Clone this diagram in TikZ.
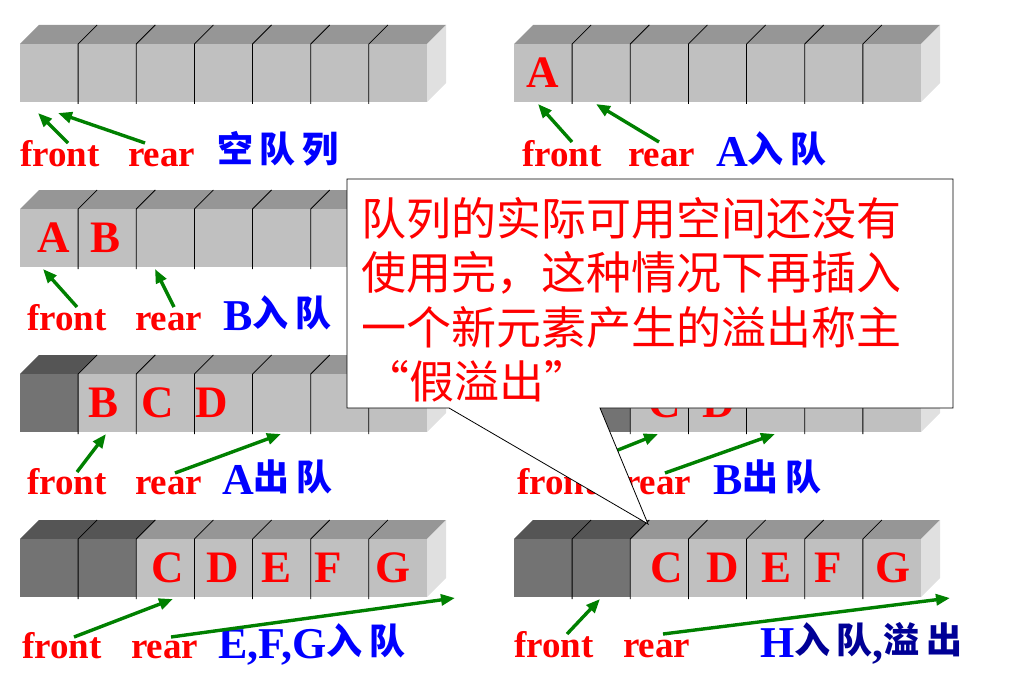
\documentclass[tikz,border=0pt]{standalone}
\usepackage{fontspec}
\setmainfont{Liberation Serif}
\newfontfamily\cjk{Noto Sans CJK SC}
\newfontfamily\cjklab{Noto Sans CJK SC}[LetterSpace=18]
\usetikzlibrary{arrows.meta}
\definecolor{qfront}{RGB}{192,192,192}
\definecolor{qtop}{RGB}{150,150,150}
\definecolor{qside}{RGB}{224,224,224}
\definecolor{qdfront}{RGB}{115,115,115}
\definecolor{qdtop}{RGB}{85,85,85}
\definecolor{ptrgreen}{RGB}{0,128,0}
\definecolor{opnavy}{RGB}{0,0,150}

\newcommand{\zh}[1]{\raisebox{4pt}{\cjklab\bfseries\fontsize{36}{36}\selectfont #1}}

% one queue strip: #1 = x, #2 = y of the front face, #3 = dequeued cells
\newcommand{\qstrip}[3]{%
  \begin{scope}[shift={(#1,#2)}]
    \fill[qtop] (0,0) -- (19,-19) -- (426,-19) -- (407,0) -- cycle;
    \fill[qside] (407,0) -- (426,-19) -- (426,39) -- (407,58) -- cycle;
    \fill[qfront] (0,0) rectangle (407,58);
    \ifnum#3>0
      \fill[qdtop] (0,0) -- (19,-19) -- ({#3*58.14+19},-19) -- ({#3*58.14},0) -- cycle;
      \fill[qdfront] (0,0) rectangle ({#3*58.14},58);
    \fi
    \foreach \i in {1,...,6}
      \draw[cellline] ({\i*58.14},60) -- ({\i*58.14},0) -- ++(19,-19);
  \end{scope}}

\begin{document}
\begin{tikzpicture}[
    x=1pt, y=-1pt,
    cellline/.style={black, line width=0.8pt},
    cellchar/.style={text=red, inner sep=0pt, font=\bfseries\fontsize{45}{45}\selectfont},
    ptrlabel/.style={anchor=base west, inner sep=0pt, text=red,
                     font=\bfseries\fontsize{37}{37}\selectfont},
    oplabel/.style={anchor=base west, inner sep=0pt, text=blue,
                    font=\bfseries\fontsize{44}{44}\selectfont},
    ptr/.style={ptrgreen, line width=3.4pt, -{Triangle[length=14pt,width=11pt]}},
    note/.style={fill=white, draw=black, line width=0.8pt},
    notetext/.style={anchor=north west, inner sep=0pt, align=left, text=red,
                     font=\cjk\fontsize{45}{54.5}\selectfont}
  ]
  \useasboundingbox (0,0) rectangle (1022,698);

  % strips
  \qstrip{20}{44}{0}
  \qstrip{514}{44}{0}
  \qstrip{20}{209}{0}
  \qstrip{20}{374}{1}
  \qstrip{514}{374}{2}
  \qstrip{20}{539}{2}
  \qstrip{514}{539}{2}

  % queue contents
  \node[cellchar] (a1) at (543,73) {A};
  \node[cellchar] (a2) at (54,238) {A};
  \node[cellchar] (b2) at (106,238) {B};
  \node[cellchar] (b3) at (104,403) {B};
  \node[cellchar] (c3) at (158,403) {C};
  \node[cellchar] (d3) at (212,403) {D};
  \node[cellchar] (c4) at (665,403) {C};
  \node[cellchar] (d4) at (719,403) {D};
  \node[cellchar] (c5) at (168,568) {C};
  \node[cellchar] (d5) at (223,568) {D};
  \node[cellchar] (e5) at (277,568) {E};
  \node[cellchar] (f5) at (328,568) {F};
  \node[cellchar] (g5) at (393,568) {G};
  \node[cellchar] (c6) at (667,568) {C};
  \node[cellchar] (d6) at (723,568) {D};
  \node[cellchar] (e6) at (776,568) {E};
  \node[cellchar] (f6) at (828,568) {F};
  \node[cellchar] (g6) at (893,568) {G};

  % front / rear labels and operations
  \node[ptrlabel] (front1) at (20,166) {front};
  \node[ptrlabel] (rear1)  at (128,166) {rear};
  \node[oplabel]  (op1)    at (217,166) {\zh{空队列}};
  \node[ptrlabel] (front2) at (522,166) {front};
  \node[ptrlabel] (rear2)  at (628,166) {rear};
  \node[oplabel]  (op2)    at (716,166) {A\zh{入队}};
  \node[ptrlabel] (front3) at (27,330) {front};
  \node[ptrlabel] (rear3)  at (135,330) {rear};
  \node[oplabel]  (op3)    at (223,330) {B\zh{入队}};
  \node[ptrlabel] (front4) at (27,494) {front};
  \node[ptrlabel] (rear4)  at (135,494) {rear};
  \node[oplabel]  (op4)    at (222,494) {A\zh{出队}};
  \node[ptrlabel] (front5) at (517,494) {front};
  \node[ptrlabel] (rear5)  at (624,494) {rear};
  \node[oplabel]  (op5)    at (713,494) {B\zh{出队}};
  \node[ptrlabel] (front6) at (22,658) {front};
  \node[ptrlabel] (rear6)  at (131,658) {rear};
  \node[oplabel]  (op6)    at (218,658) {E,F,G\zh{入队}};
  \node[ptrlabel] (front7) at (514,657) {front};
  \node[ptrlabel] (rear7)  at (623,657) {rear};
  \node[oplabel]  (op7)    at (760,657) {H{\color{opnavy}\zh{入队},\zh{溢出}}};

  % pointer arrows
  \coordinate (ft1) at (68,143);  \coordinate (fh1) at (38,113);
  \coordinate (rt1) at (145,143); \coordinate (rh1) at (58,113);
  \coordinate (ft2) at (572,142); \coordinate (fh2) at (538,104);
  \coordinate (rt2) at (659,142); \coordinate (rh2) at (596,104);
  \coordinate (ft3) at (77,307);  \coordinate (fh3) at (43,269);
  \coordinate (rt3) at (174,307); \coordinate (rh3) at (155,269);
  \coordinate (ft4) at (77,472);  \coordinate (fh4) at (106,434);
  \coordinate (rt4) at (175,473); \coordinate (rh4) at (281,434);
  \coordinate (ft5) at (563,472); \coordinate (fh5) at (658,434);
  \coordinate (rt5) at (665,473); \coordinate (rh5) at (775,434);
  \coordinate (ft6) at (74,637);  \coordinate (fh6) at (173,599);
  \coordinate (rt6) at (171,637); \coordinate (rh6) at (455,598);
  \coordinate (ft7) at (567,634); \coordinate (fh7) at (600,599);
  \coordinate (rt7) at (663,634); \coordinate (rh7) at (950,598);
  \foreach \k in {1,...,7} {
    \draw[ptr] (ft\k) -- (fh\k);
    \draw[ptr] (rt\k) -- (rh\k);
  }

  % callout
  \coordinate (tip) at (648,524);
  \draw[note] (347,179) -- (953,179) -- (953,408) -- (600,408) -- (tip)
    -- (449,408) -- (347,408) -- cycle;
  \node[notetext] (note) at (361,197)
    {队列的实际可用空间还没有\\使用完，这种情况下再插入\\一个新元素产生的溢出称主\\\hspace{3pt}“假溢出”};
\end{tikzpicture}
\end{document}
